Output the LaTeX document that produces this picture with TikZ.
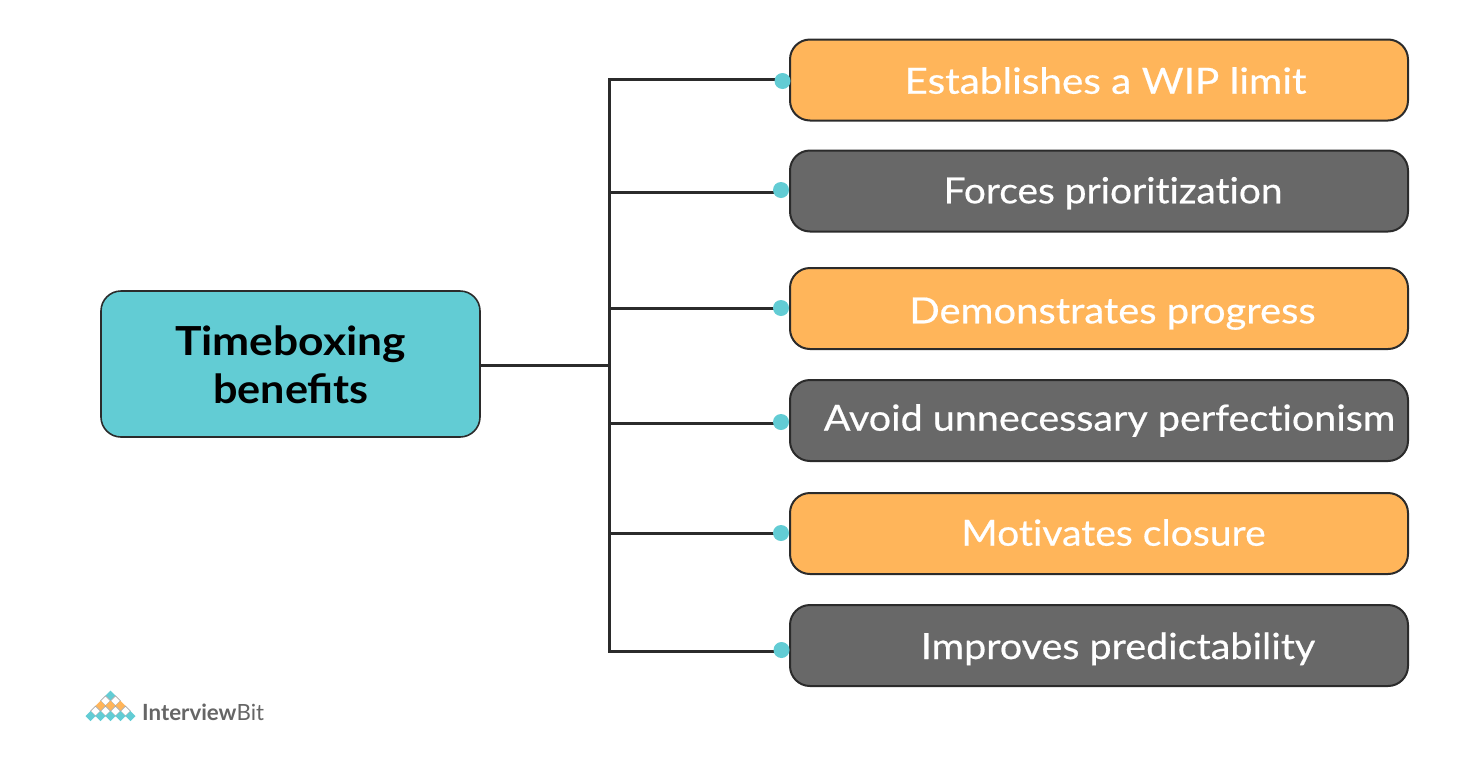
\documentclass[tikz,border=0pt]{standalone}
\usepackage{fontspec}
\setmainfont{Lato}
\definecolor{teal1}{HTML}{62CCD4}
\definecolor{orange1}{HTML}{FFB55A}
\definecolor{gray1}{HTML}{686868}
\definecolor{line1}{HTML}{2B2B2B}
\definecolor{logogray}{HTML}{666666}
\definecolor{logolight}{HTML}{A8A8A8}
\tikzset{
  benefit/.style={draw=line1,line width=2pt,rounded corners=20pt,minimum width=618pt,minimum height=81pt,inner sep=0pt},
  orangebox/.style={benefit,fill=orange1},
  graybox/.style={benefit,fill=gray1},
  btext/.style={text=white,font=\fontsize{36}{40}\selectfont\addfontfeature{FakeStretch=#1,FakeBold=0.5,RawFeature={-liga}},inner sep=0pt,anchor=base},
  titletext/.style={inner sep=0pt,text=black,anchor=base,font=\fontsize{40}{48}\selectfont\bfseries\addfontfeature{FakeStretch=#1}},
  hub/.style={draw=line1,line width=1.6pt,fill=teal1,rounded corners=20pt,minimum width=379pt,minimum height=146pt,inner sep=0pt},
  dotnode/.style={circle,fill=teal1,minimum size=16pt,inner sep=0pt},
  conn/.style={draw=line1,line width=3pt,line cap=rect},
  dteal/.style={fill=teal1,draw=none},
  dorange/.style={fill=orange1,draw=none},
  dwhite/.style={fill=white,draw=logolight,line width=0.7pt},
}
\begin{document}
\begin{tikzpicture}[x=1pt,y=-1pt]
\useasboundingbox (0,0) rectangle (1462,758);
\fill[white] (0,0) rectangle (1462,758);
% connectors
\coordinate (t0) at (609,365);
\coordinate (t1) at (609,79);
\coordinate (t2) at (609,192);
\coordinate (t3) at (609,308);
\coordinate (t4) at (609,423);
\coordinate (t5) at (609,533);
\coordinate (t6) at (609,651);
\coordinate (e1) at (785,79);
\coordinate (e2) at (785,192);
\coordinate (e3) at (785,308);
\coordinate (e4) at (785,423);
\coordinate (e5) at (785,533);
\coordinate (e6) at (785,651);
\node[hub] (hubbox) at (290.5,364) {};
\node[orangebox] (b1) at (1099,80) {};
\node[graybox] (b2) at (1099,191) {};
\node[orangebox] (b3) at (1099,308.5) {};
\node[graybox] (b4) at (1099,420.5) {};
\node[orangebox] (b5) at (1099,533.5) {};
\node[graybox] (b6) at (1099,645.5) {};
\draw[conn] (hubbox.east) ++(0,1) -- (t0);
\draw[conn] (t1) -- (t6);
\foreach \i in {1,...,6} \draw[conn] (t\i) -- (e\i);
\node[dotnode] (d1) at (782.5,81) {};
\node[dotnode] (d2) at (781,190) {};
\node[dotnode] (d3) at (781,308) {};
\node[dotnode] (d4) at (781,422) {};
\node[dotnode] (d5) at (781,533) {};
\node[dotnode] (d6) at (781.5,650) {};
\node[btext=1.125] (l1) at (1105.5,93.7) {Establishes a WIP limit};
\node[btext=1.08] (l2) at (1113,203.3) {Forces prioritization};
\node[btext=1.11] (l3) at (1112.5,323.3) {Demonstrates progress};
\node[btext=1.097] (l4) at (1109.5,430.7) {Avoid unnecessary perfectionism};
\node[btext=1.086] (l5) at (1113.5,545.7) {Motivates closure};
\node[btext=1.097] (l6) at (1118,659) {Improves predictability};
\node[titletext=1.108] (title1) at (290.5,355) {Timeboxing};
\node[titletext=1.08] (title2) at (291,403) {benefits};
% logo
\foreach \x/\y/\s in {
 110.5/695.7/dteal,
 105.5/700.8/dwhite,115.5/700.8/dwhite,
 100.5/705.9/dorange,110.5/705.9/dorange,120.5/705.9/dorange,
 95.5/711/dwhite,105.5/711/dwhite,115.5/711/dwhite,125.5/711/dwhite,
 90.5/716.1/dteal,100.5/716.1/dteal,110.5/716.1/dteal,120.5/716.1/dteal,130.5/716.1/dteal}
  \path[\s] (\x-5,\y) -- (\x,\y-5) -- (\x+5,\y) -- (\x,\y+5) -- cycle;
\node[inner sep=0pt,anchor=west,text=logogray,font=\fontsize{22.3}{26}\selectfont] (logo) at (142,712) {\textbf{Interview}Bit};
\end{tikzpicture}
\end{document}
